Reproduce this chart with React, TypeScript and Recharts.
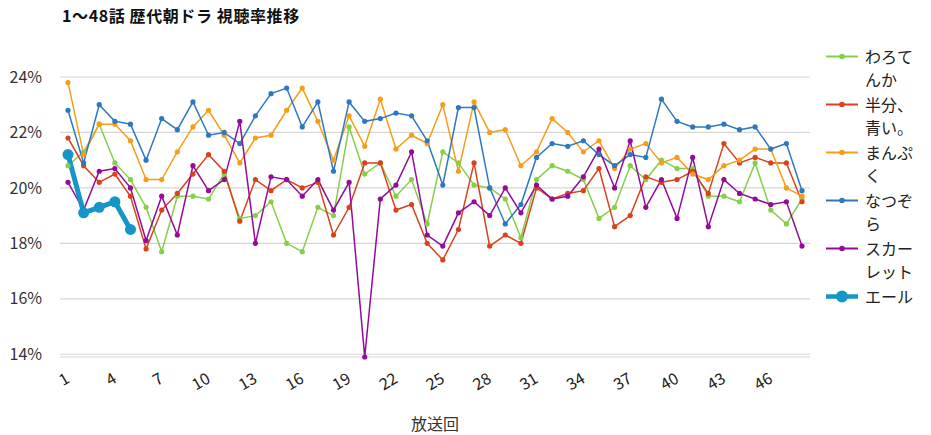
import React from 'react';
import { LineChart, Line, XAxis, YAxis, CartesianGrid, Legend } from 'recharts';

const episodes = [1,2,3,4,5,6,7,8,9,10,11,12,13,14,15,16,17,18,19,20,21,22,23,24,25,26,27,28,29,30,31,32,33,34,35,36,37,38,39,40,41,42,43,44,45,46,47,48];

const warotenka = [20.8,21.3,22.3,20.9,20.3,19.3,17.7,19.7,19.7,19.6,20.5,18.9,19.0,19.5,18.0,17.7,19.3,19.0,22.2,20.5,20.9,19.7,20.3,18.7,21.3,20.9,20.1,20.0,19.6,18.2,20.3,20.8,20.6,20.3,18.9,19.3,20.8,20.3,21.0,20.7,20.7,19.7,19.7,19.5,20.9,19.2,18.7,19.6];
const hanbun = [21.8,20.8,20.2,20.5,19.7,17.8,19.2,19.8,20.5,21.2,20.6,18.8,20.3,19.9,20.3,20.0,20.2,18.3,19.3,20.9,20.9,19.2,19.4,18.0,17.4,18.5,20.9,17.9,18.3,18.0,20.0,19.6,19.8,19.9,20.7,18.6,19.0,20.4,20.2,20.3,20.6,19.8,21.6,20.9,21.1,20.9,20.9,19.5];
const manpuku = [23.8,21.2,22.3,22.3,21.7,20.3,20.3,21.3,22.2,22.8,21.9,20.9,21.8,21.9,22.8,23.6,22.4,21.0,22.6,21.5,23.2,21.4,21.9,21.6,23.0,20.6,23.1,22.0,22.1,20.8,21.3,22.5,22.0,21.3,21.7,20.7,21.4,21.6,20.9,21.1,20.5,20.3,20.8,21.0,21.4,21.4,20.0,19.7];
const natsuzora = [22.8,20.9,23.0,22.4,22.3,21.0,22.5,22.1,23.1,21.9,22.0,21.6,22.6,23.4,23.6,22.2,23.1,20.6,23.1,22.4,22.5,22.7,22.6,21.7,20.1,22.9,22.9,20.0,18.7,19.4,21.1,21.6,21.5,21.7,21.2,20.8,21.2,21.1,23.2,22.4,22.2,22.2,22.3,22.1,22.2,21.4,21.6,19.9];
const scarlet = [20.2,19.2,20.6,20.7,20.0,18.1,19.7,18.3,20.8,19.9,20.3,22.4,18.0,20.4,20.3,19.7,20.3,19.2,20.2,13.9,19.6,20.1,21.3,18.3,17.9,19.1,19.5,19.0,20.0,19.1,20.1,19.6,19.7,20.4,21.4,20.0,21.7,19.3,20.3,18.9,21.1,18.6,20.3,19.8,19.6,19.4,19.5,17.9];
const yell = [21.2,19.1,19.3,19.5,18.5];

const yTicks = [14,16,18,20,22,24];

const seriesDefs = [
  { key: 'warotenka', name: 'わろてんか', color: '#86cf4a', values: warotenka, width: 1.5, r: 2.6 },
  { key: 'hanbun', name: '半分、青い。', color: '#d9421c', values: hanbun, width: 1.5, r: 2.6 },
  { key: 'manpuku', name: 'まんぷく', color: '#f59e1b', values: manpuku, width: 1.5, r: 2.6 },
  { key: 'natsuzora', name: 'なつぞら', color: '#2e78c0', values: natsuzora, width: 1.5, r: 2.6 },
  { key: 'scarlet', name: 'スカーレット', color: '#940b9a', values: scarlet, width: 1.5, r: 2.6 },
  { key: 'yell', name: 'エール', color: '#1596c6', values: yell, width: 5, r: 5.5 },
];

const data = episodes.map((ep, i) => {
  const row: any = { ep };
  seriesDefs.forEach((s) => {
    row[s.key] = i < s.values.length ? s.values[i] : null;
  });
  return row;
});

const FONT = "'Noto Sans CJK JP', 'Noto Sans', sans-serif";

const XTick = (props: any) => {
  const { x, y, payload } = props;
  return (
    <g transform={`translate(${x},${y + 20})`}>
      <text x={0} y={0} dy="0.35em" textAnchor="end" transform="rotate(-30)" fontSize={16} fill="#222" fontFamily={FONT}>
        {payload.value}
      </text>
    </g>
  );
};

const LegendContent = () => (
  <div style={{ fontFamily: FONT, fontSize: 16, color: '#222' }}>
    {seriesDefs.map((s) => (
      <div key={s.key} style={{ display: 'flex', alignItems: 'flex-start', height: 48 }}>
        <svg width={39} height={23} style={{ flex: 'none' }}>
          <line x1={0} x2={32} y1={11.5} y2={11.5} stroke={s.color} strokeWidth={s.key === 'yell' ? 4.5 : 2} />
          <circle cx={16} cy={11.5} r={s.key === 'yell' ? 6 : 2.8} fill={s.color} />
        </svg>
        <div style={{ width: 50, lineHeight: '22.6px' }}>{s.name}</div>
      </div>
    ))}
  </div>
);

export default function App() {
  return (
    <div style={{ position: 'relative', width: 915, height: 427, fontFamily: FONT }}>
      <div style={{ position: 'absolute', left: 54, top: -3, fontSize: 16, letterSpacing: '0.6px', fontWeight: 'bold', color: '#111', lineHeight: '20px', whiteSpace: 'nowrap' }}>
        1～48話 歴代朝ドラ 視聴率推移
      </div>
      <LineChart width={915} height={427} data={data} margin={{ top: 69, right: 113, bottom: 5, left: 0 }}>
        <CartesianGrid vertical={false} stroke="#d6d6d6" strokeWidth={1.2} />
        <XAxis
          dataKey="ep"
          type="category"
          interval={2}
          tickLine={false}
          axisLine={false}
          tickSize={0}
          tickMargin={0}
          height={73}
          padding={{ left: 8, right: 8 }}
          tick={<XTick />}
          label={{ value: '放送回', position: 'insideBottom', offset: 0, fontSize: 16, fill: '#333' }}
        />
        <YAxis
          type="number"
          domain={[14, 24]}
          ticks={yTicks}
          tickFormatter={(v: number) => `${v}%`}
          axisLine={false}
          tickLine={false}
          tickSize={0}
          tickMargin={18}
          width={52}
          tick={{ fontSize: 16, fill: '#333' }}
        />
        <Legend
          layout="vertical"
          align="center"
          verticalAlign="middle"
          content={<LegendContent />}
          wrapperStyle={{ position: 'absolute', left: 818, top: 37, width: 100 }}
        />
        {seriesDefs.map((s) => (
          <Line
            key={s.key}
            type="linear"
            dataKey={s.key}
            name={s.name}
            stroke={s.color}
            strokeWidth={s.width}
            dot={{ r: s.r, fill: s.color, stroke: s.color, strokeWidth: 0 }}
            activeDot={false}
            connectNulls={false}
            isAnimationActive={false}
          />
        ))}
      </LineChart>
    </div>
  );
}
